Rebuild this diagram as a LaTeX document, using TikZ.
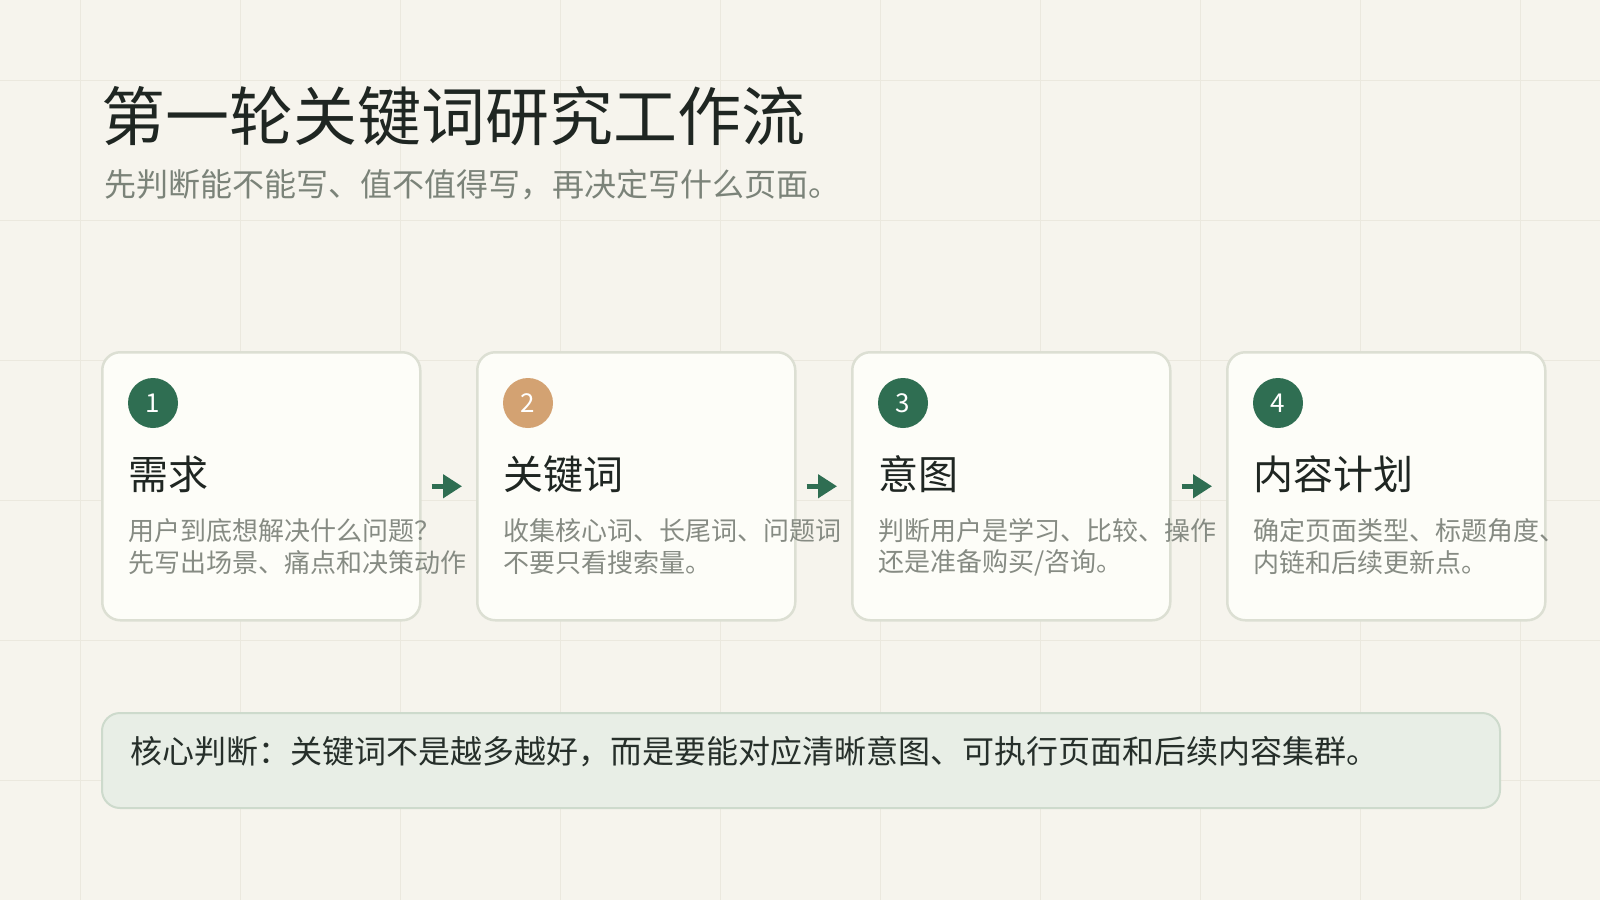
\documentclass[tikz,border=0pt]{standalone}
\usepackage{fontspec}
\setmainfont{Noto Sans CJK SC}
\usetikzlibrary{arrows.meta}
\definecolor{bgc}{HTML}{F6F4ED}
\definecolor{gridc}{HTML}{EBE8DE}
\definecolor{cardfill}{HTML}{FDFDF8}
\definecolor{cardline}{HTML}{DCDFD3}
\definecolor{darkgreen}{HTML}{2F6E52}
\definecolor{tan}{HTML}{D3A272}
\definecolor{titlec}{HTML}{1F2622}
\definecolor{subc}{HTML}{7B8379}
\definecolor{descc}{HTML}{868B83}
\definecolor{notefill}{HTML}{E8EEE6}
\definecolor{noteline}{HTML}{CDDACC}
\definecolor{notetext}{HTML}{262F2A}
\tikzset{
  card/.style={draw=cardline, line width=2.5pt, fill=cardfill, rounded corners=18pt,
    minimum width=318pt, minimum height=268pt, anchor=north west, inner sep=0pt},
  numcirc/.style={circle, minimum size=50pt, inner sep=0pt, text=white,
    font=\fontsize{26}{26}\selectfont},
  headtxt/.style={anchor=west, inner sep=0pt, text=titlec, font=\fontsize{40}{40}\selectfont},
  desctxt/.style={anchor=west, inner sep=0pt, text=descc, font=\fontsize{26}{26}\selectfont},
  flowarrow/.style={draw=darkgreen, line width=4.5pt,
    -{Triangle[length=19pt,width=23pt]}},
  notebox/.style={draw=noteline, line width=2pt, fill=notefill, rounded corners=18pt,
    minimum width=1398pt, minimum height=95pt, anchor=north west, inner sep=0pt},
}
\begin{document}
\begin{tikzpicture}[x=1pt,y=-1pt]
\useasboundingbox (0,0) rectangle (1600,900);
\fill[bgc] (0,0) rectangle (1600,900);
% grid
\foreach \gx in {80,240,...,1520} {\draw[gridc, line width=1pt] (\gx,0) -- (\gx,900);}
\foreach \gy in {80,220,...,780} {\draw[gridc, line width=1pt] (0,\gy) -- (1600,\gy);}
% title
\node[anchor=west, inner sep=0pt, text=titlec, font=\fontsize{64}{64}\selectfont] (title) at (101,116.5) {第一轮关键词研究工作流};
\node[anchor=west, inner sep=0pt, text=subc, font=\fontsize{32}{32}\selectfont] (subtitle) at (104,185) {先判断能不能写、值不值得写，再决定写什么页面。};
% cards
\node[card] (c1) at (101,351) {};
\node[card] (c2) at (476,351) {};
\node[card] (c3) at (851,351) {};
\node[card] (c4) at (1226,351) {};
% numbers
\node[numcirc, fill=darkgreen] (n1) at (153,403) {1};
\node[numcirc, fill=tan] (n2) at (528,403) {2};
\node[numcirc, fill=darkgreen] (n3) at (903,403) {3};
\node[numcirc, fill=darkgreen] (n4) at (1278,403) {4};
% headings
\node[headtxt] (h1) at (128,474.5) {需求};
\node[headtxt] (h2) at (503,474.5) {关键词};
\node[headtxt] (h3) at (878,474.5) {意图};
\node[headtxt] (h4) at (1253,474.5) {内容计划};
% descriptions
\node[desctxt] (d1a) at (128,530.5) {用户到底想解决什么问题？};
\node[desctxt] (d1b) at (128,563) {先写出场景、痛点和决策动作};
\node[desctxt] (d2a) at (503,530.5) {收集核心词、长尾词、问题词};
\node[desctxt] (d2b) at (503,563) {不要只看搜索量。};
\node[desctxt] (d3a) at (878,530.5) {判断用户是学习、比较、操作};
\node[desctxt] (d3b) at (878,563) {还是准备购买/咨询。};
\node[desctxt] (d4a) at (1253,530.5) {确定页面类型、标题角度、};
\node[desctxt] (d4b) at (1253,563) {内链和后续更新点。};
% arrows
\draw[flowarrow] ([xshift=10pt]c1.east) -- ([xshift=-14pt]c2.west);
\draw[flowarrow] ([xshift=10pt]c2.east) -- ([xshift=-14pt]c3.west);
\draw[flowarrow] ([xshift=10pt]c3.east) -- ([xshift=-14pt]c4.west);
% note
\node[notebox] (note) at (101,712) {};
\node[anchor=west, inner sep=0pt, text=notetext, font=\fontsize{32}{32}\selectfont] (notetxt) at (130,752) {核心判断：关键词不是越多越好，而是要能对应清晰意图、可执行页面和后续内容集群。};
\end{tikzpicture}
\end{document}
